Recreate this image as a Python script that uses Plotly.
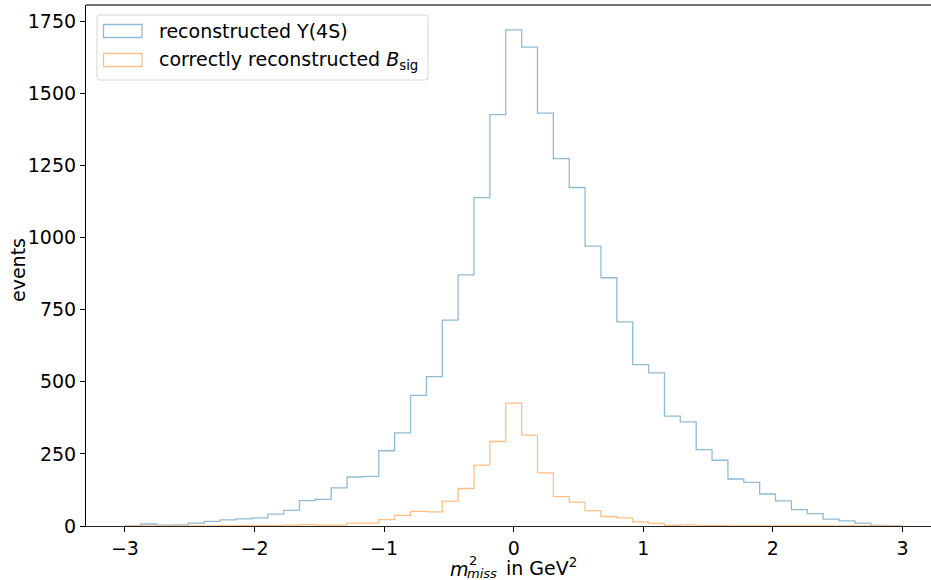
import numpy as np
import plotly.graph_objects as go

# Histogram bin edges for m^2_miss (GeV^2)
bin_edges = np.linspace(-3, 3, 50)

# Counts per bin: all reconstructed Upsilon(4S) candidates
counts_all = [
    1, 7, 3, 4, 10, 16, 21, 25, 28, 41,
    54, 88, 92, 132, 170, 172, 261, 323, 453, 518,
    714, 871, 1139, 1427, 1721, 1661, 1432, 1274, 1174, 971,
    861, 708, 560, 531, 381, 361, 265, 228, 163, 151,
    111, 87, 57, 43, 24, 18, 10, 2, 1,
]

# Counts per bin: correctly reconstructed B_sig
counts_sig = [
    0, 0, 0, 0, 0, 0, 1, 1, 1, 1,
    3, 5, 3, 3, 10, 10, 22, 37, 51, 49,
    86, 130, 211, 293, 426, 315, 184, 102, 83, 53,
    33, 28, 14, 9, 2, 4, 1, 1, 0, 0,
    0, 0, 0, 0, 0, 0, 0, 0, 0,
]

labels = ["reconstructed Υ(4S)", "correctly reconstructed <i>B</i><sub>sig</sub>"]
colors = ["#8fbbd9", "#ffbf86"]

x_ticks = [-3, -2, -1, 0, 1, 2, 3]
y_ticks = [0, 250, 500, 750, 1000, 1250, 1500, 1750]

FONT = "DejaVu Sans"
FS = 19
FS_SMALL = 13
W, H = 931, 580
ML, MR, MT, MB = 86, 0, 5, 54
PW, PH = W - ML - MR, H - MT - MB


def px(xp):
    return (xp - ML) / PW


def py(yp):
    return (H - MB - yp) / PH


def step_xy(edges, counts):
    xs = [edges[0]] + list(edges)
    ys = [0] + list(counts) + [0]
    return xs, ys


fig = go.Figure()
for counts, color in zip([counts_all, counts_sig], colors):
    xs, ys = step_xy(bin_edges, counts)
    fig.add_trace(go.Scatter(
        x=xs, y=ys, mode="lines", line=dict(color=color, width=1.3, shape="hv"),
        showlegend=False, hoverinfo="skip",
    ))

fig.update_layout(
    width=W, height=H,
    margin=dict(l=ML, r=MR, t=MT, b=MB),
    paper_bgcolor="white", plot_bgcolor="white",
    font=dict(family=FONT, size=FS, color="black"),
    xaxis=dict(
        range=[-3.3, 3.22], tickvals=x_ticks, showgrid=False, zeroline=False,
        showline=True, linecolor="#222", linewidth=1.2,
        ticks="outside", ticklen=5, tickcolor="black", tickwidth=1.1,
        tickfont=dict(size=FS),
    ),
    yaxis=dict(
        range=[0, 1807], tickvals=y_ticks, showgrid=False, zeroline=False,
        showline=True, linecolor="black", linewidth=1.1,
        ticks="outside", ticklen=5, tickcolor="black", tickwidth=1.1,
        tickfont=dict(size=FS),
    ),
)

shapes = []
annotations = []

# top spine
shapes.append(dict(type="line", xref="paper", yref="paper", x0=0, x1=1.02,
                   y0=1, y1=1, line=dict(color="#444", width=1.3)))

# legend frame with rounded corners
lx0, lx1, ly0, ly1, r = 97, 428, 15, 80, 3
path = (f"M {px(lx0 + r)} {py(ly0)} L {px(lx1 - r)} {py(ly0)} "
        f"Q {px(lx1)} {py(ly0)} {px(lx1)} {py(ly0 + r)} "
        f"L {px(lx1)} {py(ly1 - r)} Q {px(lx1)} {py(ly1)} {px(lx1 - r)} {py(ly1)} "
        f"L {px(lx0 + r)} {py(ly1)} Q {px(lx0)} {py(ly1)} {px(lx0)} {py(ly1 - r)} "
        f"L {px(lx0)} {py(ly0 + r)} Q {px(lx0)} {py(ly0)} {px(lx0 + r)} {py(ly0)} Z")
shapes.append(dict(type="path", xref="paper", yref="paper", path=path,
                   fillcolor="rgba(255,255,255,0.8)", line=dict(color="#d6d6d6", width=1)))

for i, (lab, color) in enumerate(zip(labels, colors)):
    y_top = 24.5 + i * 29
    shapes.append(dict(type="rect", xref="paper", yref="paper",
                       x0=px(103.5), x1=px(142), y0=py(y_top), y1=py(y_top + 13),
                       line=dict(color=color, width=1.3), fillcolor="rgba(0,0,0,0)"))
    annotations.append(dict(text=lab, xref="paper", yref="paper", x=px(157),
                            y=py(y_top + 6.5), xanchor="left", yanchor="middle",
                            showarrow=False, font=dict(size=FS, family=FONT)))

# y axis title
annotations.append(dict(text="events", xref="paper", yref="paper", x=px(18),
                        y=py(270), textangle=-90, xanchor="center", yanchor="middle",
                        showarrow=False, font=dict(size=FS, family=FONT)))

# x axis title: m with stacked super/subscript, then "in GeV^2"
base_y = 568.5
annotations.append(dict(text="<i>m</i>", xref="paper", yref="paper", x=px(448),
                        y=py(base_y), xanchor="left", yanchor="middle",
                        showarrow=False, font=dict(size=FS, family=FONT)))
annotations.append(dict(text="2", xref="paper", yref="paper", x=px(467),
                        y=py(base_y - 8.5), xanchor="left", yanchor="middle",
                        showarrow=False, font=dict(size=FS_SMALL, family=FONT)))
annotations.append(dict(text="<i>miss</i>", xref="paper", yref="paper", x=px(465),
                        y=py(base_y + 5), xanchor="left", yanchor="middle",
                        showarrow=False, font=dict(size=FS_SMALL, family=FONT)))
annotations.append(dict(text="in GeV<sup>2</sup>", xref="paper", yref="paper", x=px(504),
                        y=py(base_y - 2), xanchor="left", yanchor="middle",
                        showarrow=False, font=dict(size=FS, family=FONT)))

fig.update_layout(shapes=shapes, annotations=annotations)
fig.write_html("out.html")
